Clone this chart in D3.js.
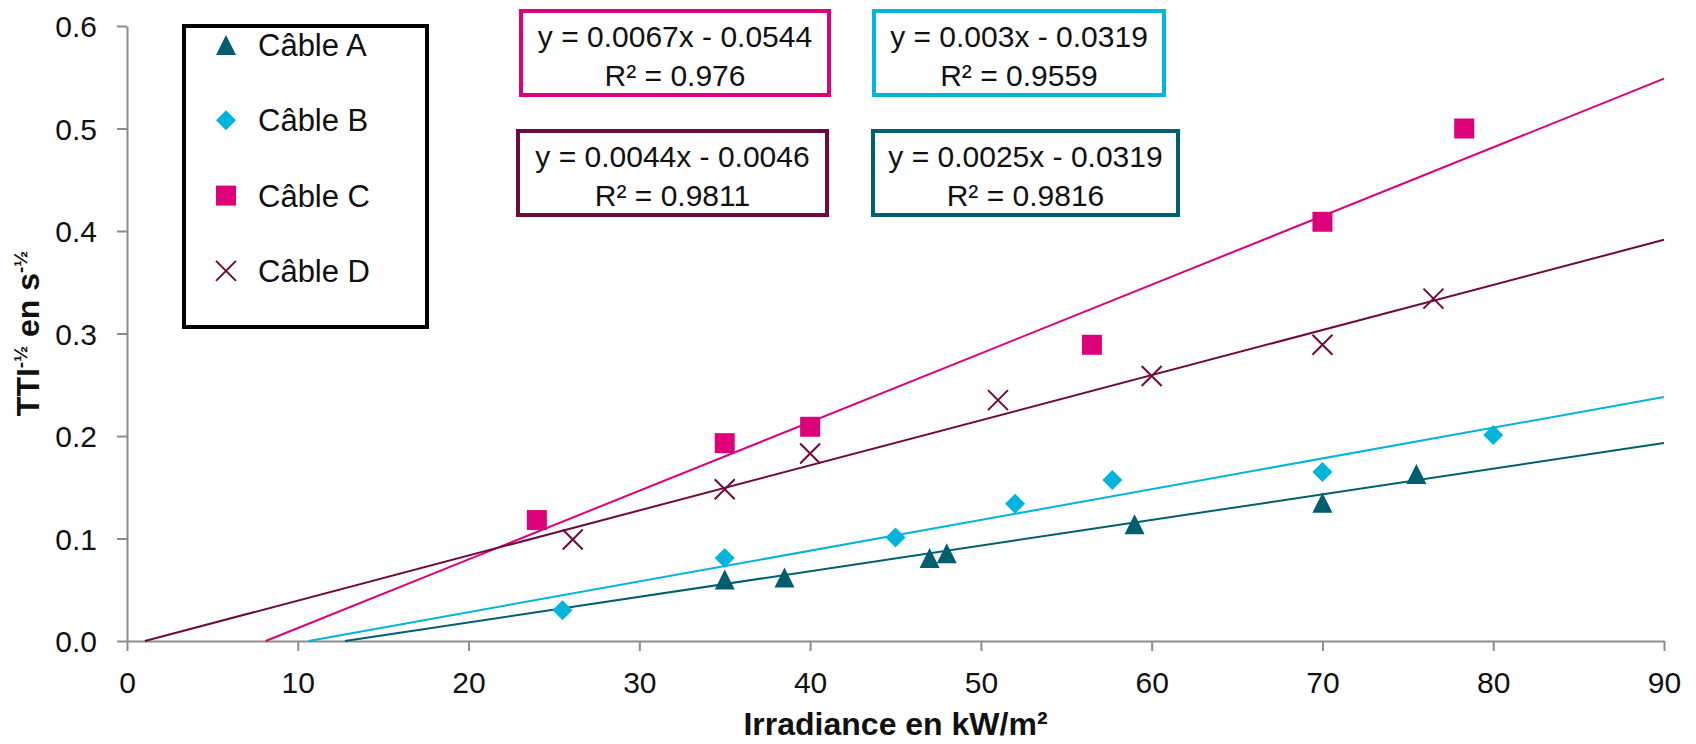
<!DOCTYPE html>
<html>
<head>
<meta charset="utf-8">
<script src="https://cdn.jsdelivr.net/npm/d3@7"></script>
<style>
  body { margin: 0; background: #fff; }
  svg { display: block; font-family: 'Liberation Sans', Arial, sans-serif; }
</style>
</head>
<body>
<div id="chart"></div>
<script>
// data
const seriesNames = ['Câble A', 'Câble B', 'Câble C', 'Câble D']
const xA = [35, 38.5, 47, 48, 59, 70, 75.5]
const yA = [0.060, 0.062, 0.081, 0.0855, 0.114, 0.135, 0.163]
const xB = [25.5, 35, 45, 52, 57.7, 70, 80]
const yB = [0.030, 0.081, 0.101, 0.134, 0.157, 0.165, 0.201]
const xC = [24, 35, 40, 56.5, 70, 78.3]
const yC = [0.118, 0.193, 0.209, 0.289, 0.409, 0.500]
const xD = [26.1, 35, 40, 51, 60, 70, 76.5]
const yD = [0.099, 0.148, 0.183, 0.235, 0.2585, 0.289, 0.334]
const slopes = [0.0025, 0.003, 0.0067, 0.0044]
const intercepts = [-0.0319, -0.0319, -0.0544, -0.0046]
const rSquared = [0.9816, 0.9559, 0.976, 0.9811]
const xTicks = [0, 10, 20, 30, 40, 50, 60, 70, 80, 90]
const yTicks = [0, 0.1, 0.2, 0.3, 0.4, 0.5, 0.6]

const width = 1696
const height = 744
const padding = {top: 26, right: 32, bottom: 103, left: 127}
const COLORS = ['#005f6e', '#00b4dc', '#de0078', '#6e0a40']
const MARKERS = ['tri', 'dia', 'sq', 'x']
const AXIS_COLOR = '#8c8c8c'
const FONT_SIZE = 30

const xs = [xA, xB, xC, xD]
const ys = [yA, yB, yC, yD]

const xScale = d3.scaleLinear().domain([0, 90]).range([padding.left, width - padding.right])
const yScale = d3.scaleLinear().domain([0, 0.6]).range([height - padding.bottom, padding.top])

const markerPath = {
  tri: s => `M0,${-s / 2}L${s / 2},${s / 2}L${-s / 2},${s / 2}Z`,
  dia: s => `M0,${-s / 2}L${s / 2},0L0,${s / 2}L${-s / 2},0Z`,
  sq: s => `M${-s / 2},${-s / 2}h${s}v${s}h${-s}Z`,
  x: s => `M${-s / 2},${-s / 2}L${s / 2},${s / 2}M${s / 2},${-s / 2}L${-s / 2},${s / 2}`
}

function drawMarker (sel, i, size) {
  sel.append('path')
    .attr('d', markerPath[MARKERS[i]](size))
    .attr('fill', MARKERS[i] === 'x' ? 'none' : COLORS[i])
    .attr('stroke', MARKERS[i] === 'x' ? COLORS[i] : 'none')
    .attr('stroke-width', 2)
}

const svg = d3.select('#chart')
  .append('svg')
  .attr('width', width)
  .attr('height', height)

svg.append('rect').attr('width', width).attr('height', height).attr('fill', '#fff')

// axes
const xAxis = svg.append('g')
  .attr('transform', `translate(0, ${yScale(0)})`)
  .call(d3.axisBottom(xScale).tickValues(xTicks).tickSize(10).tickSizeOuter(0).tickFormat(d3.format('d')))
const yAxis = svg.append('g')
  .attr('transform', `translate(${xScale(0)}, 0)`)
  .call(d3.axisLeft(yScale).tickValues(yTicks).tickSize(10).tickSizeOuter(0).tickPadding(20).tickFormat(d3.format('.1f')))

;[xAxis, yAxis].forEach(ax => {
  ax.select('.domain').attr('stroke', AXIS_COLOR).attr('stroke-width', 2)
  ax.selectAll('.tick line').attr('stroke', AXIS_COLOR).attr('stroke-width', 2)
  ax.selectAll('.tick text').attr('fill', '#111').attr('font-size', FONT_SIZE).attr('font-family', null)
})
xAxis.selectAll('.tick text').attr('y', 52).attr('dy', 0)
yAxis.selectAll('.tick text').attr('dy', '0.36em')

// axis titles
svg.append('text')
  .attr('x', (xScale(0) + xScale(90)) / 2)
  .attr('y', 735)
  .attr('text-anchor', 'middle')
  .attr('font-size', 32)
  .attr('font-weight', 'bold')
  .attr('fill', '#111')
  .text('Irradiance en kW/m²')

const yTitle = svg.append('text')
  .attr('transform', `translate(39, ${(yScale(0) + yScale(0.6)) / 2}) rotate(-90)`)
  .attr('text-anchor', 'middle')
  .attr('font-size', 32)
  .attr('font-weight', 'bold')
  .attr('fill', '#111')
yTitle.append('tspan').text('TTI')
yTitle.append('tspan').attr('font-size', 19).attr('dy', -12).text('-½')
yTitle.append('tspan').attr('dy', 12).text(' en s')
yTitle.append('tspan').attr('font-size', 19).attr('dy', -12).text('-½')

// trend lines
const line = d3.line().x(d => xScale(d[0])).y(d => yScale(d[1]))
slopes.forEach((m, i) => {
  const b = intercepts[i]
  const x0 = -b / m
  svg.append('path')
    .attr('d', line([[x0, 0], [90, m * 90 + b]]))
    .attr('stroke', COLORS[i])
    .attr('stroke-width', 2)
    .attr('fill', 'none')
})

// points
xs.forEach((xv, i) => {
  svg.append('g')
    .selectAll('g')
    .data(xv.map((x, k) => [x, ys[i][k]]))
    .enter()
    .append('g')
    .attr('transform', d => `translate(${xScale(d[0])}, ${yScale(d[1])})`)
    .each(function () { drawMarker(d3.select(this), i, 20) })
})

// equation boxes
const eqBoxes = [
  {x: 871, y: 129, w: 309, h: 88},
  {x: 872, y: 9, w: 294, h: 88},
  {x: 519, y: 9, w: 312, h: 88},
  {x: 516, y: 129, w: 313, h: 88}
]
eqBoxes.forEach((box, i) => {
  const g = svg.append('g').attr('transform', `translate(${box.x}, ${box.y})`)
  g.append('rect')
    .attr('x', 2).attr('y', 2).attr('width', box.w - 4).attr('height', box.h - 4)
    .attr('fill', '#fff').attr('stroke', COLORS[i]).attr('stroke-width', 4)
  g.append('text')
    .attr('x', box.w / 2).attr('y', 38)
    .attr('text-anchor', 'middle').attr('font-size', FONT_SIZE).attr('fill', '#111')
    .text(`y = ${slopes[i]}x - ${Math.abs(intercepts[i])}`)
  g.append('text')
    .attr('x', box.w / 2).attr('y', 77)
    .attr('text-anchor', 'middle').attr('font-size', FONT_SIZE).attr('fill', '#111')
    .text(`R² = ${rSquared[i]}`)
})

// legend
const legend = svg.append('g').attr('transform', 'translate(182, 24)')
legend.append('rect')
  .attr('x', 2).attr('y', 2).attr('width', 243).attr('height', 301)
  .attr('fill', '#fff').attr('stroke', '#000').attr('stroke-width', 4)
seriesNames.forEach((name, i) => {
  const row = legend.append('g').attr('transform', `translate(44, ${21 + i * 75.3})`)
  drawMarker(row, i, 20)
  row.append('text')
    .attr('x', 32).attr('y', 11)
    .attr('font-size', 31).attr('fill', '#111')
    .text(name)
})
</script>
</body>
</html>
